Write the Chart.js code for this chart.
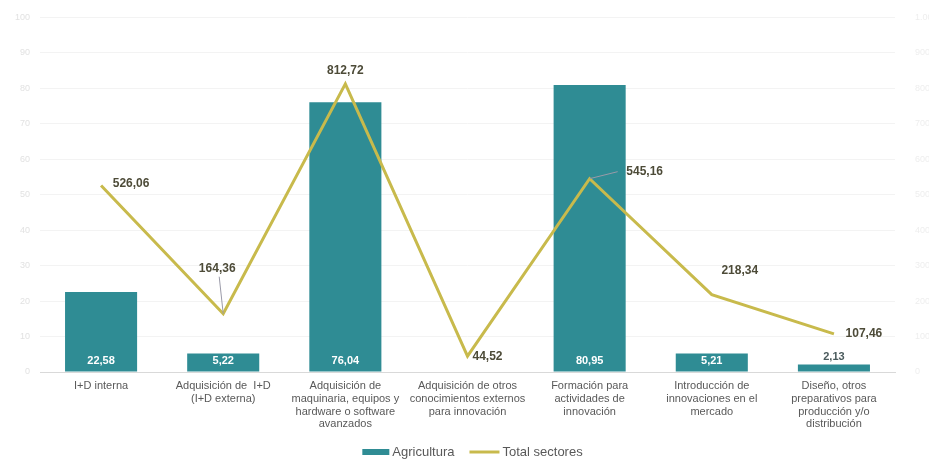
<!DOCTYPE html>
<html lang="es">
<head>
<meta charset="UTF-8">
<title>Agricultura vs Total sectores</title>
<script src="https://cdn.jsdelivr.net/npm/chart.js"></script>
<style>
  html, body { margin: 0; padding: 0; background: #fff; }
  #wrap { width: 929px; height: 459px; }
</style>
</head>
<body>
<div id="wrap"><canvas id="grafico"></canvas></div>
<script>
var categorias = [
  ["I+D interna"],
  ["Adquisición de  I+D", "(I+D externa)"],
  ["Adquisición de", "maquinaria, equipos y", "hardware o software", "avanzados"],
  ["Adquisición de otros", "conocimientos externos", "para innovación"],
  ["Formación para", "actividades de", "innovación"],
  ["Introducción de", "innovaciones en el", "mercado"],
  ["Diseño, otros", "preparativos para", "producción y/o", "distribución"]
];
var agricultura = [22.58, 5.22, 76.04, 0, 80.95, 5.21, 2.13];
var totalSectores = [526.06, 164.36, 812.72, 44.52, 545.16, 218.34, 107.46];

var tickIzq = { max: 100, paso: 10 };
var tickDer = { max: 1000, paso: 100 };

// posicion de las etiquetas de la linea (dx, dy relativo al punto) y si llevan guia
var etiquetasLinea = [
  { dx: 30, dy: -2, guia: false },
  { dx: -6, dy: -45, guia: true },
  { dx: 0, dy: -13, guia: false },
  { dx: 20, dy: 0, guia: false },
  { dx: 55, dy: -7, guia: true },
  { dx: 28, dy: -24, guia: false },
  { dx: 30, dy: 0, guia: false }
];

var FUENTE = "'Liberation Sans', Arial, sans-serif";

function fmt(v) {
  return v.toFixed(2).replace(".", ",");
}

function miles(v) {
  return String(v).replace(/\B(?=(\d{3})+(?!\d))/g, ".");
}

var etiquetasPlugin = {
  id: "etiquetas",
  afterDatasetsDraw: function(chart) {
    var ctx = chart.ctx;
    ctx.save();
    ctx.textAlign = "center";
    ctx.textBaseline = "middle";

    // barras
    var mb = chart.getDatasetMeta(0);
    ctx.font = "bold 11px " + FUENTE;
    mb.data.forEach(function(bar, i) {
      var v = agricultura[i];
      if (!v) return;
      var alto = bar.base - bar.y;
      if (alto > 16) {
        ctx.fillStyle = "#ffffff";
        ctx.fillText(fmt(v), bar.x, bar.base - 11);
      } else {
        ctx.fillStyle = "#4a5a5c";
        ctx.fillText(fmt(v), bar.x, bar.y - 7);
      }
    });

    // linea
    var ml = chart.getDatasetMeta(1);
    ctx.font = "bold 12px " + FUENTE;
    ml.data.forEach(function(pt, i) {
      var e = etiquetasLinea[i];
      var tx = pt.x + e.dx, ty = pt.y + e.dy;
      if (e.guia) {
        ctx.strokeStyle = "#9a9aa8";
        ctx.lineWidth = 1;
        ctx.beginPath();
        ctx.moveTo(pt.x, pt.y);
        if (e.dx > 20) {
          ctx.lineTo(tx - 27, ty);
        } else {
          ctx.lineTo(tx + 2, ty + 8);
        }
        ctx.stroke();
      }
      ctx.fillStyle = "#4d4b38";
      ctx.fillText(fmt(totalSectores[i]), tx, ty);
    });
    ctx.restore();
  }
};

// leyenda dibujada a mano para ajustar separaciones
var leyendaPlugin = {
  id: "leyenda",
  afterDraw: function(chart) {
    var ctx = chart.ctx;
    var ds = chart.data.datasets;
    var y = 452;
    ctx.save();
    ctx.font = "13px " + FUENTE;
    ctx.textBaseline = "middle";
    ctx.textAlign = "left";
    var w0 = ctx.measureText(ds[0].label).width;
    var w1 = ctx.measureText(ds[1].label).width;
    var total = 27 + 3 + w0 + 15 + 30 + 3 + w1;
    var x = (chart.width - total) / 2 + 8;
    ctx.fillStyle = ds[0].backgroundColor;
    ctx.fillRect(x, y - 3, 27, 6);
    x += 30;
    ctx.fillStyle = "#595959";
    ctx.fillText(ds[0].label, x, y);
    x += w0 + 15;
    ctx.strokeStyle = ds[1].borderColor;
    ctx.lineWidth = 3;
    ctx.beginPath();
    ctx.moveTo(x, y);
    ctx.lineTo(x + 30, y);
    ctx.stroke();
    x += 33;
    ctx.fillText(ds[1].label, x, y);
    ctx.restore();
  }
};

var ctx = document.getElementById("grafico").getContext("2d");
var chart = new Chart(ctx, {
  type: "bar",
  data: {
    labels: categorias,
    datasets: [
      {
        type: "bar",
        label: "Agricultura",
        data: agricultura,
        backgroundColor: "#2f8c94",
        borderWidth: 0,
        yAxisID: "y",
        categoryPercentage: 0.59,
        barPercentage: 1,
        order: 2
      },
      {
        type: "line",
        label: "Total sectores",
        data: totalSectores,
        borderColor: "#c8ba4c",
        backgroundColor: "#c8ba4c",
        borderWidth: 3,
        pointRadius: 0,
        tension: 0,
        yAxisID: "y1",
        order: 1
      }
    ]
  },
  options: {
    responsive: true,
    maintainAspectRatio: false,
    animation: false,
    layout: { padding: { top: 8, left: 0, right: 0, bottom: 0 } },
    plugins: {
      tooltip: { enabled: false },
      legend: { display: false }
    },
    scales: {
      x: {
        grid: { display: false, drawTicks: false },
        border: { color: "#d9d9d9" },
        ticks: {
          color: "#595959",
          font: { family: FUENTE, size: 11, lineHeight: 1.15 },
          maxRotation: 0,
          autoSkip: false,
          padding: 8
        },
        afterFit: function(s) { s.height = 87; }
      },
      y: {
        position: "left",
        min: 0,
        max: tickIzq.max,
        ticks: {
          stepSize: tickIzq.paso,
          color: "#e2e2e2",
          font: { family: FUENTE, size: 9 },
          padding: 10
        },
        grid: { color: "#f3f3f3", drawTicks: false },
        border: { display: false },
        afterFit: function(s) { s.width = 40; }
      },
      y1: {
        position: "right",
        min: 0,
        max: tickDer.max,
        ticks: {
          stepSize: tickDer.paso,
          color: "#eeeeee",
          font: { family: FUENTE, size: 9 },
          padding: 12,
          callback: function(v) { return miles(v); }
        },
        grid: { display: false },
        border: { display: false },
        afterFit: function(s) { s.width = 34; }
      }
    }
  },
  plugins: [etiquetasPlugin, leyendaPlugin]
});
</script>
</body>
</html>
